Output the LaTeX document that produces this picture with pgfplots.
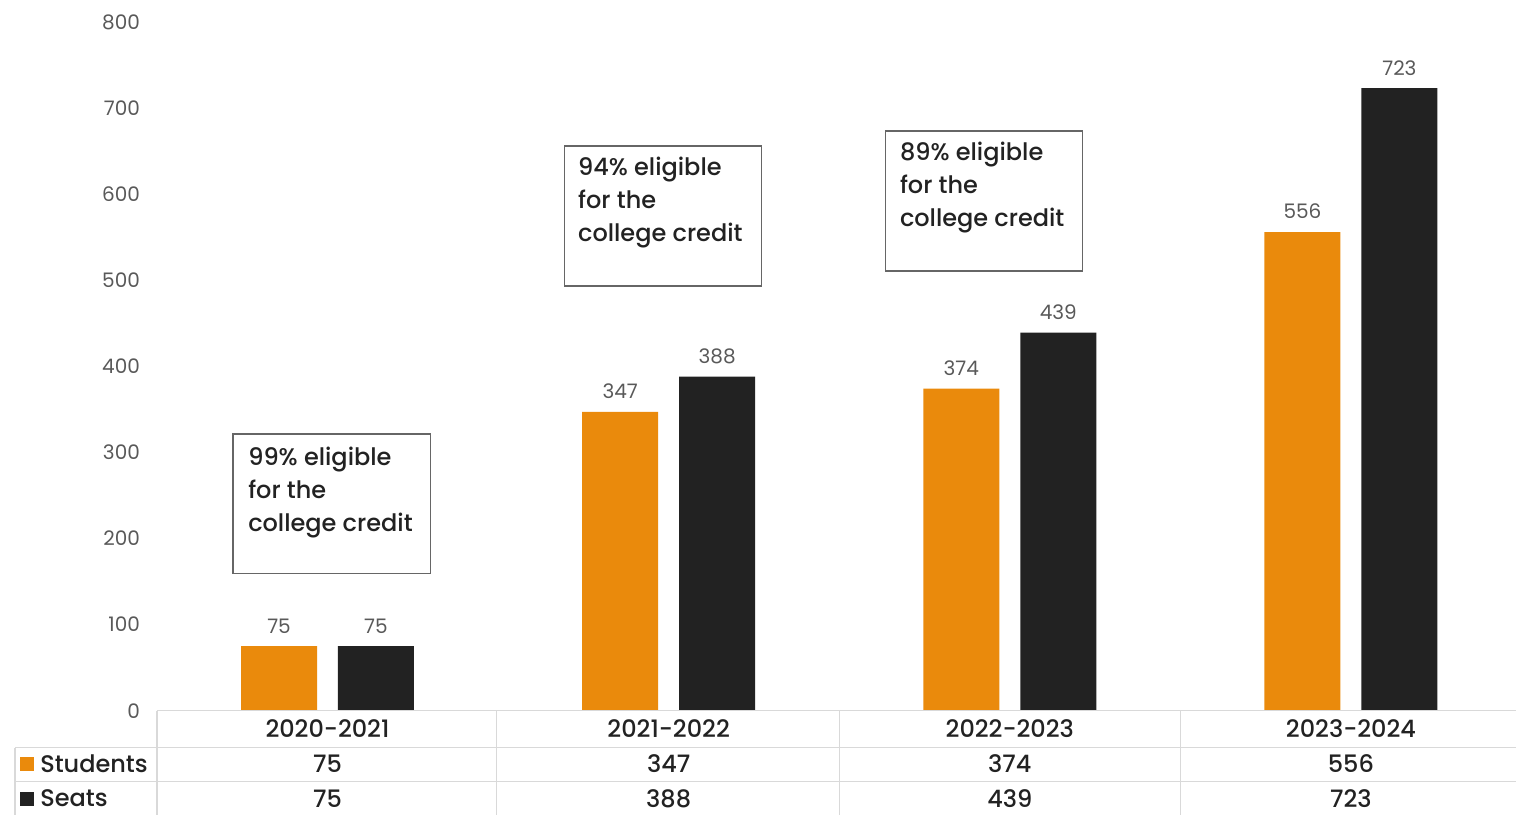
\documentclass[border=0pt]{standalone}
\usepackage{fontspec}
\setmainfont{Poppins}
\newfontfamily\medfont{Poppins Medium}
\usepackage{pgfplots}
\pgfplotsset{compat=1.18}
\definecolor{stud}{HTML}{EA8A0C}
\definecolor{seat}{HTML}{222222}
\definecolor{tickc}{HTML}{595959}
\definecolor{gridc}{HTML}{D9D9D9}
\definecolor{boxc}{HTML}{666666}
\begin{document}
\begin{tikzpicture}
\begin{axis}[
    width=680pt, height=344.5pt, scale only axis,
    xmin=0, xmax=3.985, ymin=0, ymax=800,
    axis line style={draw=none},
    ybar, bar width=38pt,
    xtick=\empty,
    ytick={0,100,...,800},
    major tick length=0pt,
    yticklabel style={font=\fontsize{10}{12}\selectfont, color=tickc, xshift=-5pt},
    /pgf/number format/assume math mode=true,
    clip=false,
    nodes near coords,
    every node near coord/.append style={font=\fontsize{10}{12}\selectfont, color=tickc, yshift=3pt},
]
\addplot[fill=stud, draw=none, bar shift=-24.25pt]
    coordinates {(0.5,75)(1.5,347)(2.5,374)(3.5,556)};
\addplot[fill=seat, draw=none, bar shift=24.25pt]
    coordinates {(0.5,75)(1.5,388)(2.5,439)(3.5,723)};

% fixes the page size
\path (axis cs:-0.46,825.5) rectangle (axis cs:3.985,-120.8);

% text boxes
\draw[boxc, line width=0.7pt] (axis cs:0.2227,321.6) rectangle (axis cs:0.8028,159.1);
\draw[boxc, line width=0.7pt] (axis cs:1.1954,656.0) rectangle (axis cs:1.7726,493.5);
\draw[boxc, line width=0.7pt] (axis cs:2.136,673.4) rectangle (axis cs:2.713,510.9);
\node[anchor=north west, inner sep=0pt, align=left, text=seat, font=\medfont\fontsize{12}{16.5}\selectfont]
    at (axis cs:0.2666,306.5) {99\% eligible\\for the\\college credit};
\node[anchor=north west, inner sep=0pt, align=left, text=seat, font=\medfont\fontsize{12}{16.5}\selectfont]
    at (axis cs:1.2335,643.2) {94\% eligible\\for the\\college credit};
\node[anchor=north west, inner sep=0pt, align=left, text=seat, font=\medfont\fontsize{12}{16.5}\selectfont]
    at (axis cs:2.177,660.7) {89\% eligible\\for the\\college credit};

% data table
\draw[gridc, line width=0.6pt] (axis cs:0,0) -- (axis cs:3.985,0);
\draw[gridc, line width=0.6pt] (axis cs:-0.416,-43) -- (axis cs:3.985,-43);
\draw[gridc, line width=0.6pt] (axis cs:-0.416,-82.4) -- (axis cs:3.985,-82.4);
\draw[gridc, line width=0.6pt] (axis cs:-0.416,-43) -- (axis cs:-0.416,-120.8);
\draw[gridc, line width=0.6pt] (axis cs:0,0) -- (axis cs:0,-120.8);
\draw[gridc, line width=0.6pt] (axis cs:0.996,0) -- (axis cs:0.996,-120.8);
\draw[gridc, line width=0.6pt] (axis cs:2,0) -- (axis cs:2,-120.8);
\draw[gridc, line width=0.6pt] (axis cs:3,0) -- (axis cs:3,-120.8);

\fill[stud] (axis cs:-0.401,-53.4) rectangle (axis cs:-0.360,-69.7);
\fill[seat] (axis cs:-0.401,-94.1) rectangle (axis cs:-0.360,-110.4);
\node[anchor=west, inner sep=0pt, text=seat, font=\medfont\fontsize{12}{14}\selectfont] at (axis cs:-0.343,-61.5) {Students};
\node[anchor=west, inner sep=0pt, text=seat, font=\medfont\fontsize{12}{14}\selectfont] at (axis cs:-0.343,-102.2) {Seats};

\tikzset{cell/.style={inner sep=0pt, text=seat, font=\medfont\fontsize{12}{14}\selectfont}}
\node[cell] at (axis cs:0.5,-20.9) {2020-2021};
\node[cell] at (axis cs:1.5,-20.9) {2021-2022};
\node[cell] at (axis cs:2.5,-20.9) {2022-2023};
\node[cell] at (axis cs:3.5,-20.9) {2023-2024};
\node[cell] at (axis cs:0.5,-61.5) {75};
\node[cell] at (axis cs:1.5,-61.5) {347};
\node[cell] at (axis cs:2.5,-61.5) {374};
\node[cell] at (axis cs:3.5,-61.5) {556};
\node[cell] at (axis cs:0.5,-102.2) {75};
\node[cell] at (axis cs:1.5,-102.2) {388};
\node[cell] at (axis cs:2.5,-102.2) {439};
\node[cell] at (axis cs:3.5,-102.2) {723};
\end{axis}
\end{tikzpicture}
\end{document}
